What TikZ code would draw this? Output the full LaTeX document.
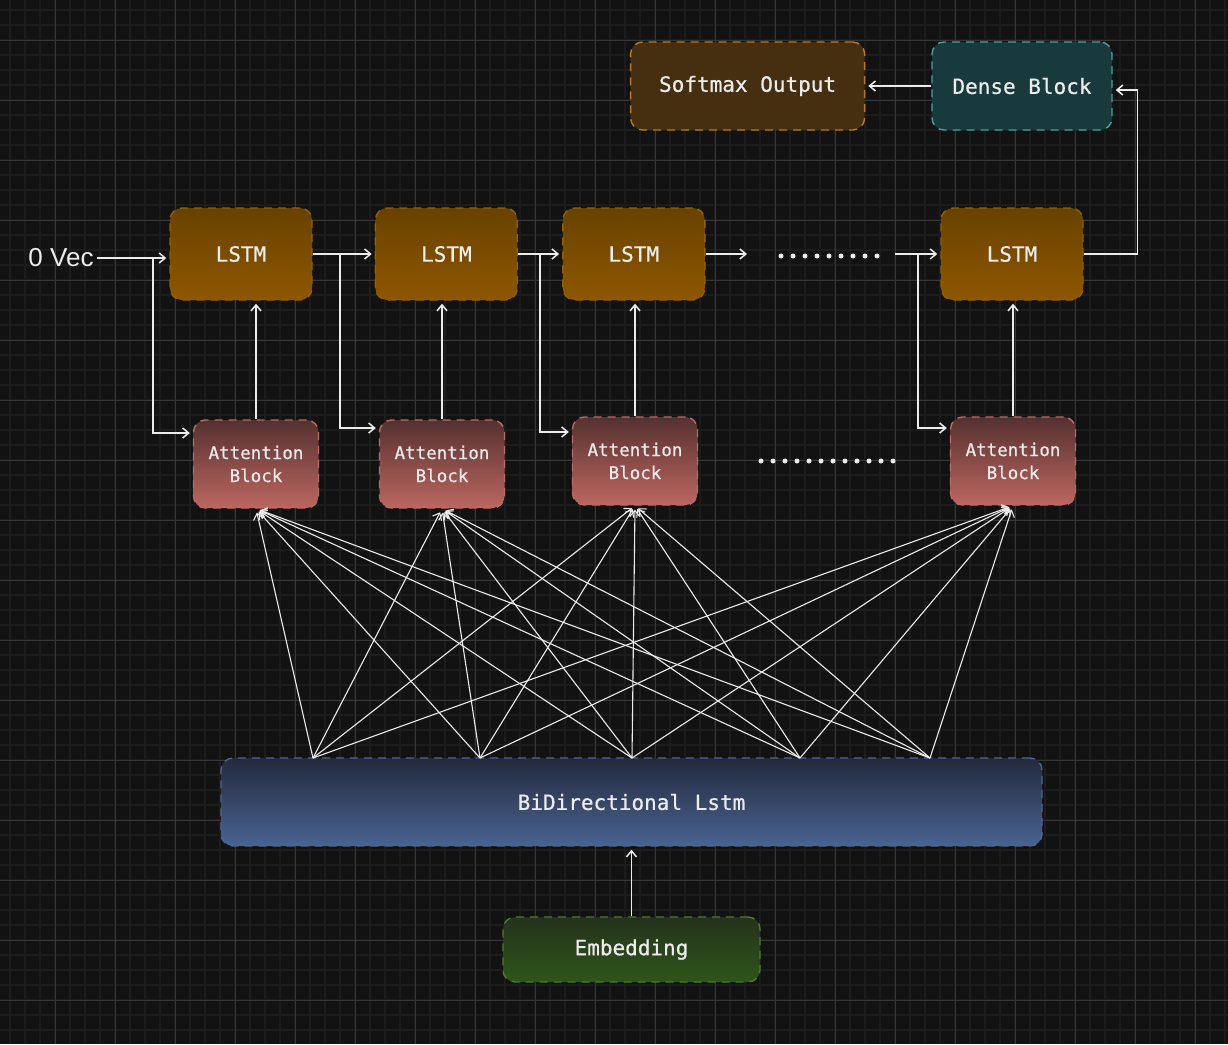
\documentclass[tikz,border=0pt]{standalone}
\usepackage{fontspec}
\setsansfont{Liberation Sans}
\newfontfamily\labelfont{DejaVu Sans Mono}[FakeBold=0.7]
\usepackage{tikz}
\usetikzlibrary{positioning,arrows.meta,calc}

\definecolor{bgcol}{HTML}{121212}
\definecolor{minorcol}{HTML}{1C1C1C}
\definecolor{majorcol}{HTML}{363636}
\definecolor{inkcol}{HTML}{ECECEC}

\begin{document}
\begin{tikzpicture}[
      x=1pt, y=-1pt,
      >={Straight Barb[length=6pt,width=10pt]},
      every node/.style={
        align=center, text=inkcol, font=\labelfont\fontsize{21}{25}\selectfont
      },
      box/.style={
        rounded corners=12pt, dashed, dash pattern=on 8pt off 6pt,
        line width=1.4pt, inner sep=0pt
      },
      lstmbox/.style={box, draw=lstmedge, top color=lstmtop, bottom color=lstmbot,
        minimum width=142pt, minimum height=92pt},
      attbox/.style={box, draw=attedge, top color=atttop, bottom color=attbot,
        minimum width=125pt, minimum height=88pt,
        font=\labelfont\fontsize{17.5}{23}\selectfont},
      wire/.style={draw=inkcol, line width=1.5pt, ->, shorten >=3pt},
      fan/.style={draw=inkcol, line width=1.1pt, ->, shorten >=4pt},
      dots/.style={draw=inkcol, line width=5pt, line cap=round,
        dash pattern=on 0pt off 12pt}
    ]
    \definecolor{lstmtop}{HTML}{684200}
    \definecolor{lstmbot}{HTML}{8E5700}
    \definecolor{lstmedge}{HTML}{946000}
    \definecolor{atttop}{HTML}{553130}
    \definecolor{attbot}{HTML}{BD6660}
    \definecolor{attedge}{HTML}{B96B66}

    % Background and grid
    \useasboundingbox (0,0) rectangle (1228,1044);
    \fill[bgcol] (0,0) rectangle (1228,1044);
    \foreach \x in {10,25,...,1225} \draw[minorcol, line width=1.8pt] (\x,0) -- (\x,1044);
    \foreach \y in {10,25,...,1040} \draw[minorcol, line width=1.8pt] (0,\y) -- (1228,\y);
    \foreach \x in {55,115,...,1225} \draw[majorcol, line width=1pt] (\x,0) -- (\x,1044);
    \foreach \y in {40,100,...,1040} \draw[majorcol, line width=1pt] (0,\y) -- (1228,\y);

    % Output row
    \node (dense) [box, draw={rgb,255:red,79;green,158;blue,160}, fill={rgb,255:red,24;green,58;blue,60},
      minimum width=180pt, minimum height=88pt] at (1022,86) {Dense Block};
    \node (softmax) [box, draw={rgb,255:red,184;green,120;blue,47}, fill={rgb,255:red,69;green,47;blue,16},
      minimum width=234pt, minimum height=88pt, left=66pt of dense] {Softmax Output};

    % LSTM row
    \node (zvec) [font=\sffamily\fontsize{26}{30}\selectfont] at (61,258) {0 Vec};
    \node (lstm1) [lstmbox] at (241,254) {LSTM};
    \node (lstm2) [lstmbox, right=62pt of lstm1] {LSTM};
    \node (lstm3) [lstmbox, right=44pt of lstm2] {LSTM};
    \node (lstm4) [lstmbox] at (1012,254) {LSTM};

    % Attention row
    \node (att1) [attbox] at (256,464) {Attention\\Block};
    \node (att2) [attbox] at (442,464) {Attention\\Block};
    \node (att3) [attbox] at (635,461) {Attention\\Block};
    \node (att4) [attbox] at (1013,461) {Attention\\Block};

    % Encoder
    \node (bilstm) [box, draw={rgb,255:red,75;green,100;blue,148},
      top color={rgb,255:red,35;green,42;blue,61}, bottom color={rgb,255:red,74;green,99;blue,145},
      minimum width=821pt, minimum height=88pt] at (631.5,802) {BiDirectional Lstm};
    \node (embed) [box, draw={rgb,255:red,77;green,122;blue,46},
      top color={rgb,255:red,36;green,50;blue,29}, bottom color={rgb,255:red,47;green,85;blue,25},
      minimum width=257pt, minimum height=65pt] at (631.5,949.5) {Embedding};

    % Branch points and free ends
    \coordinate (j1) at (153,258);
    \coordinate (j2) at (340,254);
    \coordinate (j3) at (540,254);
    \coordinate (e3) at (750,254);
    \coordinate (j4s) at (895,254);
    \coordinate (j4) at (918,254);
    \coordinate (d1) at (781,256);
    \coordinate (d2) at (877,256);
    \coordinate (d3) at (761,461);
    \coordinate (d4) at (897,461);

    % Recurrent chain
    \draw[wire] (zvec.east) -- (zvec.east -| lstm1.west);
    \draw[wire] (lstm1) -- (lstm2);
    \draw[wire] (lstm2) -- (lstm3);
    \draw[wire] (lstm3.east) -- (e3);
    \draw[dots] (d1) -- (d2);
    \draw[wire] (j4s) -- (lstm4.west);
    \draw[dots] (d3) -- (d4);

    % Hidden state into attention
    \draw[wire] (j1) |- ([yshift=31pt]att1.west);
    \draw[wire] (j2) |- ([yshift=36pt]att2.west);
    \draw[wire] (j3) |- ([yshift=29pt]att3.west);
    \draw[wire] (j4) |- ([yshift=33pt]att4.west);

    % Context into LSTM
    \foreach \i in {1,...,4}
      \draw[wire] (att\i.north) -- (att\i.north |- lstm\i.south);

    % Output path
    \draw[wire] (lstm4.east) -- ++(54,0) |- ([yshift=-4pt]dense.east);
    \draw[wire] (dense) -- (softmax);
    \draw[wire] (embed) -- (bilstm);

    % Encoder states to every attention block
    \coordinate (s1) at (313,758);
    \coordinate (s2) at (480,758);
    \coordinate (s3) at (632,758);
    \coordinate (s4) at (800,758);
    \coordinate (s5) at (930,758);
    \foreach \s in {s1,s2,s3,s4,s5}
      \foreach \a in {att1,att2,att3,att4}
        \draw[fan] (\s) -- (\a.south);
  \end{tikzpicture}
\end{document}
